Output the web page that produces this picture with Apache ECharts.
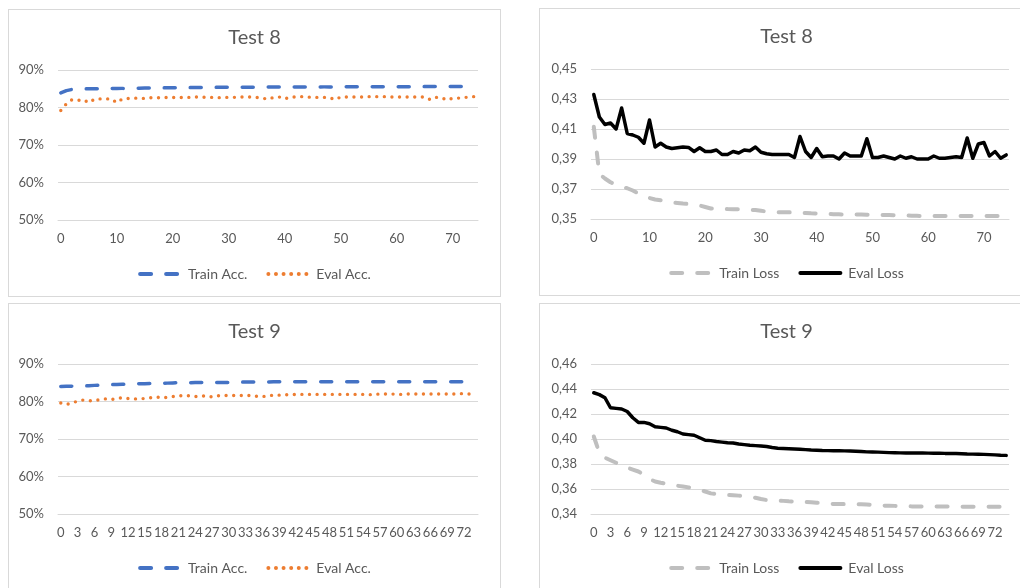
<!DOCTYPE html>
<html>
<head>
<meta charset="utf-8">
<script src="https://cdn.jsdelivr.net/npm/echarts@6/dist/echarts.min.js"></script>
<style>
  html, body { margin: 0; padding: 0; background: #fff; width: 1020px; height: 588px; overflow: hidden; }
  .panel { position: absolute; box-sizing: border-box; border: 1px solid #d9d9d9; background: #fff; }
  .panel .chart { width: 100%; height: 100%; }
</style>
</head>
<body>
<div class="panel" style="left:8px;top:9px;width:493px;height:288px"><div class="chart" id="acc8"></div></div>
<div class="panel" style="left:539px;top:8px;width:495px;height:288px"><div class="chart" id="loss8"></div></div>
<div class="panel" style="left:8px;top:303px;width:493px;height:300px"><div class="chart" id="acc9"></div></div>
<div class="panel" style="left:539px;top:303px;width:495px;height:300px"><div class="chart" id="loss9"></div></div>
<script>
// epochs 0..74
const epochs = []
for (let i = 0; i < 75; i++) epochs.push(String(i))

// Test 8 - accuracy (%)
const trainAcc8 = [
  83.9, 84.5, 84.8, 84.9, 84.95, 85.0, 85.0, 85.02, 85.05, 85.05,
  85.07, 85.1, 85.1, 85.12, 85.15, 85.17, 85.2, 85.2, 85.22, 85.25,
  85.25, 85.27, 85.3, 85.3, 85.32, 85.33, 85.35, 85.36, 85.37, 85.38,
  85.39, 85.4, 85.4, 85.41, 85.42, 85.42, 85.43, 85.44, 85.45, 85.45,
  85.46, 85.46, 85.47, 85.48, 85.48, 85.49, 85.49, 85.5, 85.5, 85.5,
  85.51, 85.51, 85.52, 85.52, 85.53, 85.53, 85.54, 85.54, 85.54, 85.55,
  85.55, 85.55, 85.56, 85.56, 85.56, 85.57, 85.57, 85.57, 85.58, 85.58,
  85.58, 85.59, 85.59, 85.59, 85.6
]
const evalAcc8 = [
  79.2, 81.0, 82.1, 81.9, 82.1, 81.3, 82.2, 82.3, 82.3, 82.3,
  81.3, 82.3, 82.4, 82.5, 82.5, 82.4, 82.6, 82.6, 82.6, 82.7,
  82.7, 82.6, 82.7, 82.7, 82.8, 82.8, 82.7, 82.7, 82.6, 82.7,
  82.7, 82.7, 82.8, 82.8, 82.8, 82.7, 82.5, 82.2, 82.7, 82.8,
  82.3, 82.8, 82.8, 82.9, 82.8, 82.7, 82.7, 82.7, 82.6, 82.1,
  82.8, 82.8, 82.8, 82.8, 82.8, 82.9, 82.9, 82.9, 82.9, 82.8,
  82.8, 82.8, 82.8, 82.8, 82.8, 82.8, 82.1, 82.7, 82.6, 82.0,
  82.5, 82.5, 82.6, 82.9, 82.9
]

// Test 8 - loss
const trainLoss8 = [
  0.4115, 0.380, 0.377, 0.3745, 0.373, 0.3715, 0.3705, 0.369, 0.367, 0.3655,
  0.364, 0.363, 0.3625, 0.362, 0.361, 0.3607, 0.3603, 0.360, 0.3597, 0.359,
  0.358, 0.357, 0.357, 0.3568, 0.3566, 0.3565, 0.3565, 0.3563, 0.356, 0.356,
  0.3555, 0.355, 0.3547, 0.3545, 0.3545, 0.3545, 0.3543, 0.354, 0.354, 0.3538,
  0.3537, 0.3535, 0.3533, 0.3532, 0.3531, 0.353, 0.353, 0.353, 0.353, 0.3529,
  0.3528, 0.3527, 0.3527, 0.3527, 0.3525, 0.3524, 0.3523, 0.3522, 0.3521, 0.352,
  0.352, 0.352, 0.352, 0.352, 0.352, 0.352, 0.352, 0.352, 0.352, 0.352,
  0.352, 0.352, 0.352, 0.352, 0.352
]
const evalLoss8 = [
  0.433, 0.418, 0.413, 0.414, 0.410, 0.424, 0.407, 0.406, 0.4045, 0.4005,
  0.416, 0.398, 0.4005, 0.398, 0.397, 0.3975, 0.398, 0.3977, 0.395, 0.3975,
  0.395, 0.395, 0.396, 0.393, 0.393, 0.395, 0.394, 0.396, 0.3955, 0.398,
  0.3945, 0.3935, 0.393, 0.393, 0.393, 0.393, 0.391, 0.405, 0.395, 0.391,
  0.397, 0.3915, 0.392, 0.392, 0.390, 0.394, 0.392, 0.392, 0.392, 0.4035,
  0.391, 0.391, 0.392, 0.391, 0.390, 0.392, 0.3905, 0.3915, 0.390, 0.390,
  0.390, 0.392, 0.3905, 0.3905, 0.391, 0.3915, 0.391, 0.404, 0.3905, 0.400,
  0.401, 0.392, 0.395, 0.3905, 0.3927
]

// Test 9 - accuracy (%)
const trainAcc9 = [
  84.0, 84.05, 84.1, 84.1, 84.15, 84.2, 84.3, 84.35, 84.4, 84.5,
  84.55, 84.6, 84.65, 84.7, 84.75, 84.75, 84.8, 84.8, 84.85, 84.9,
  84.95, 85.0, 85.0, 85.0, 85.05, 85.05, 85.05, 85.1, 85.1, 85.1,
  85.1, 85.15, 85.15, 85.2, 85.2, 85.2, 85.2, 85.2, 85.25, 85.25,
  85.25, 85.25, 85.25, 85.25, 85.27, 85.27, 85.27, 85.28, 85.28, 85.28,
  85.28, 85.29, 85.29, 85.29, 85.29, 85.3, 85.3, 85.3, 85.3, 85.3,
  85.3, 85.3, 85.3, 85.3, 85.3, 85.3, 85.3, 85.3, 85.3, 85.3,
  85.3, 85.3, 85.3, 85.3, 85.3
]
const evalAcc9 = [
  79.6, 79.2, 79.6, 80.1, 80.4, 80.2, 80.2, 80.5, 80.7, 80.5,
  80.8, 81.0, 80.8, 80.7, 80.7, 80.8, 81.0, 81.2, 81.0, 81.1,
  81.3, 81.5, 81.6, 81.5, 81.3, 81.4, 81.5, 81.2, 81.5, 81.6,
  81.6, 81.6, 81.6, 81.6, 81.6, 81.4, 81.3, 81.5, 81.7, 81.7,
  81.8, 81.8, 81.9, 81.9, 81.9, 81.9, 81.9, 81.9, 81.9, 81.9,
  81.9, 81.9, 81.9, 81.9, 81.9, 81.8, 81.9, 82.0, 82.0, 82.0,
  81.9, 81.9, 82.0, 82.0, 82.0, 82.0, 82.0, 82.0, 82.0, 82.0,
  82.0, 82.1, 82.1, 82.0, 82.0
]

// Test 9 - loss
const trainLoss9 = [
  0.402, 0.389, 0.385, 0.383, 0.381, 0.379, 0.377, 0.3755, 0.374, 0.3715,
  0.368, 0.366, 0.365, 0.3642, 0.363, 0.3626, 0.362, 0.3613, 0.3605, 0.3594,
  0.358, 0.3565, 0.356, 0.3555, 0.3552, 0.355, 0.3547, 0.3543, 0.3538, 0.353,
  0.352, 0.3512, 0.3508, 0.3506, 0.3505, 0.3502, 0.350, 0.3498, 0.3496, 0.3494,
  0.349, 0.3486, 0.3483, 0.348, 0.348, 0.3479, 0.3478, 0.3478, 0.3478, 0.3476,
  0.3473, 0.347, 0.3467, 0.3466, 0.3465, 0.3463, 0.3462, 0.3461, 0.3461, 0.3461,
  0.346, 0.346, 0.346, 0.346, 0.346, 0.346, 0.3459, 0.3459, 0.3459, 0.3459,
  0.3459, 0.3459, 0.3459, 0.3459, 0.3459
]
const evalLoss9 = [
  0.437, 0.4355, 0.433, 0.425, 0.4245, 0.424, 0.422, 0.417, 0.4133, 0.4133,
  0.4122, 0.4098, 0.4093, 0.4088, 0.407, 0.4058, 0.404, 0.4035, 0.403, 0.401,
  0.399, 0.3987, 0.398, 0.3975, 0.397, 0.3968, 0.396, 0.3955, 0.395, 0.3947,
  0.3944, 0.394, 0.3932, 0.3926, 0.3924, 0.3922, 0.392, 0.3918, 0.3915, 0.3912,
  0.391, 0.3908, 0.3907, 0.3906, 0.3906, 0.3905, 0.3904, 0.3902, 0.390, 0.3897,
  0.3896, 0.3895, 0.3893, 0.3891, 0.389, 0.3889, 0.3888, 0.3888, 0.3888, 0.3888,
  0.3887, 0.3886, 0.3886, 0.3885, 0.3885, 0.3884, 0.3882, 0.388, 0.3879, 0.3878,
  0.3877, 0.3875, 0.3873, 0.387, 0.3869
]

const FONT = 'Lato'
const TXT = '#595959'
const GRID_LINE = '#d9d9d9'

function line(name, data, color, width, dash) {
  return {
    name,
    type: 'line',
    data,
    symbol: 'none',
    lineStyle: { color, width, type: dash, cap: 'round', join: 'round' },
    itemStyle: { color }
  }
}

function makeChart(id, cfg) {
  let chart = echarts.init(document.getElementById(id), null, { renderer: 'canvas' })
  chart.setOption({
    animation: false,
    textStyle: { fontFamily: FONT },
    title: {
      text: cfg.title,
      left: 'center',
      top: 13,
      textStyle: { fontFamily: FONT, fontSize: 20, fontWeight: 'normal', color: TXT }
    },
    grid: { left: cfg.gridLeft, top: 60, width: cfg.gridWidth, height: 150 },
    legend: {
      top: 252,
      left: 'center',
      itemWidth: 40,
      itemHeight: 14,
      itemGap: 19,
      itemStyle: { opacity: 0 },
      lineStyle: { width: 4 },
      textStyle: { fontFamily: FONT, fontSize: 14, color: TXT, padding: [0, 0, 0, 3] },
      data: cfg.series.map(s => s.name)
    },
    xAxis: {
      type: 'category',
      data: epochs,
      boundaryGap: true,
      axisLine: { show: true, lineStyle: { color: GRID_LINE } },
      axisTick: { show: false },
      axisLabel: {
        interval: cfg.labelInterval,
        color: TXT,
        fontFamily: FONT,
        fontSize: 13,
        margin: 12
      }
    },
    yAxis: {
      type: 'value',
      min: cfg.yMin,
      max: cfg.yMax,
      interval: cfg.yStep,
      axisLine: { show: false },
      axisTick: { show: false },
      splitLine: { lineStyle: { color: GRID_LINE } },
      axisLabel: {
        color: TXT,
        fontFamily: FONT,
        fontSize: 13,
        margin: 14,
        formatter: cfg.yFormat
      }
    },
    series: cfg.series
  })
  return chart
}

const pct = v => Math.round(v) + '%'
const comma = v => v.toFixed(2).replace('.', ',')

makeChart('acc8', {
  title: 'Test 8', gridLeft: 49, gridWidth: 420, labelInterval: 9,
  yMin: 50, yMax: 90, yStep: 10, yFormat: pct,
  series: [
    line('Train Acc.', trainAcc8, '#4472c4', 3.5, [11, 15]),
    line('Eval Acc.', evalAcc8, '#ed7d31', 3.4, [0, 7.6])
  ]
})
makeChart('loss8', {
  title: 'Test 8', gridLeft: 51, gridWidth: 418, labelInterval: 9,
  yMin: 0.35, yMax: 0.45, yStep: 0.02, yFormat: comma,
  series: [
    line('Train Loss', trainLoss8, '#bfbfbf', 4, [11, 15]),
    line('Eval Loss', evalLoss8, '#000000', 3.5, 'solid')
  ]
})
makeChart('acc9', {
  title: 'Test 9', gridLeft: 49, gridWidth: 420, labelInterval: 2,
  yMin: 50, yMax: 90, yStep: 10, yFormat: pct,
  series: [
    line('Train Acc.', trainAcc9, '#4472c4', 3.5, [11, 15]),
    line('Eval Acc.', evalAcc9, '#ed7d31', 3.4, [0, 7.6])
  ]
})
makeChart('loss9', {
  title: 'Test 9', gridLeft: 51, gridWidth: 418, labelInterval: 2,
  yMin: 0.34, yMax: 0.46, yStep: 0.02, yFormat: comma,
  series: [
    line('Train Loss', trainLoss9, '#bfbfbf', 4, [11, 15]),
    line('Eval Loss', evalLoss9, '#000000', 3.5, 'solid')
  ]
})
</script>
</body>
</html>
